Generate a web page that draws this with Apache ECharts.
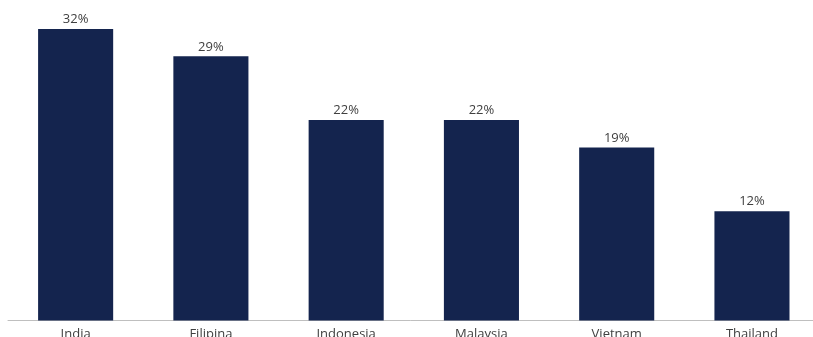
<!DOCTYPE html>
<html>
<head>
<meta charset="utf-8">
<script src="https://cdn.jsdelivr.net/npm/echarts@6/dist/echarts.min.js"></script>
<style>
  html, body { margin: 0; padding: 0; background: #ffffff; overflow: hidden; }
  #chart { width: 813px; height: 337px; }
</style>
</head>
<body>
<div id="chart"></div>
<script>
// Country categories and their percentage shares
const countries = ['India', 'Filipina', 'Indonesia', 'Malaysia', 'Vietnam', 'Thailand'];
const shares = [32, 29, 22, 22, 19, 12];

const chart = echarts.init(document.getElementById('chart'), null, { renderer: 'canvas' });

chart.setOption({
  animation: false,
  backgroundColor: '#ffffff',
  // the last category band runs slightly past the right edge; labels may sit at the bottom edge
  grid: { left: 8, right: -6.6, top: 29, bottom: 16.5, containLabel: false, outerBoundsMode: 'none' },
  xAxis: {
    type: 'category',
    data: countries,
    axisLine: { lineStyle: { color: '#bfbfbf', width: 1 } },
    axisTick: { show: false },
    axisLabel: { color: '#404040', fontSize: 13, fontFamily: 'Open Sans, sans-serif', margin: 7 }
  },
  yAxis: {
    type: 'value',
    min: 0,
    max: 32,
    show: false,
    splitLine: { show: false }
  },
  series: [{
    type: 'bar',
    data: shares,
    barWidth: '55.5%',
    itemStyle: { color: '#14244e' },
    label: {
      show: true,
      position: 'top',
      distance: 3,
      formatter: p => p.value + '%',
      color: '#404040',
      fontSize: 13,
      fontFamily: 'Open Sans, sans-serif'
    }
  }]
});
</script>
</body>
</html>
